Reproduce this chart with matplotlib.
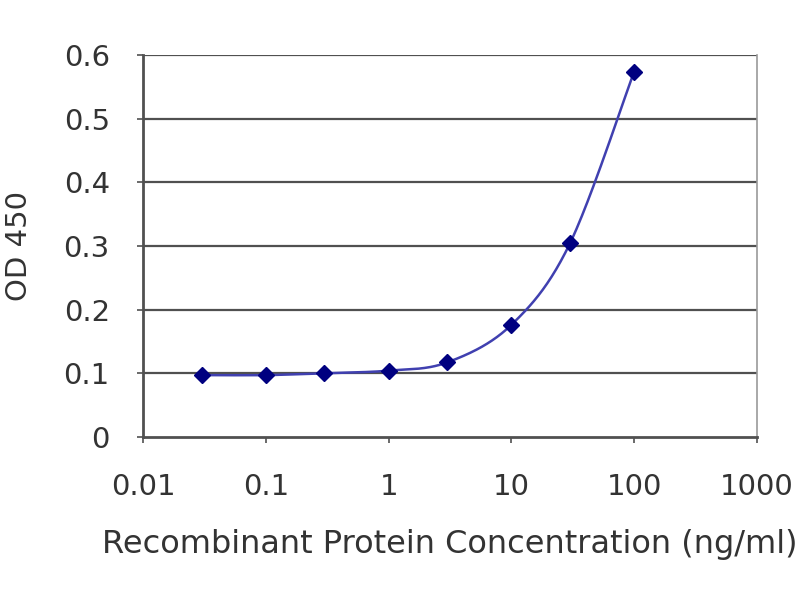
import numpy as np
import matplotlib
matplotlib.use("Agg")
import matplotlib.pyplot as plt
from matplotlib.ticker import FixedLocator, FixedFormatter, NullLocator

# data
conc = [0.03, 0.1, 0.3, 1, 3, 10, 30, 100]
od450 = [0.097, 0.097, 0.100, 0.104, 0.117, 0.176, 0.304, 0.574]

x_ticks = [0.01, 0.1, 1, 10, 100, 1000]
x_labels = ["0.01", "0.1", "1", "10", "100", "1000"]
y_ticks = [0, 0.1, 0.2, 0.3, 0.4, 0.5, 0.6]
y_labels = ["0", "0.1", "0.2", "0.3", "0.4", "0.5", "0.6"]


def smooth(xs, ys, n=40):
    # Catmull-Rom style smoothing like a spreadsheet "smoothed line"
    p = np.column_stack([np.log10(xs), ys])
    p = np.vstack([p[0], p, p[-1]])
    out = []
    for i in range(1, len(p) - 2):
        p0, p1, p2, p3 = p[i - 1], p[i], p[i + 1], p[i + 2]
        c1 = p1 + (p2 - p0) / 6
        c2 = p2 - (p3 - p1) / 6
        t = np.linspace(0, 1, n)[:, None]
        seg = ((1 - t) ** 3) * p1 + 3 * ((1 - t) ** 2) * t * c1 + 3 * (1 - t) * t ** 2 * c2 + t ** 3 * p2
        out.append(seg)
    out = np.vstack(out)
    return 10 ** out[:, 0], out[:, 1]


plt.rcParams["font.family"] = ["DejaVu Sans"]

fig = plt.figure(figsize=(8, 6), dpi=100)
ax = fig.add_axes([0.179, 0.272, 0.767, 0.636])

sx, sy = smooth(conc, od450)
ax.plot(sx, sy, color="#4040b0", lw=1.8, zorder=3)
ax.plot(conc, od450, linestyle="none", marker="D", ms=8.5, color="#000080", zorder=4)

ax.set_xscale("log")
ax.set_xlim(0.01, 1000)
ax.set_ylim(0, 0.6)
ax.xaxis.set_major_locator(FixedLocator(x_ticks))
ax.xaxis.set_major_formatter(FixedFormatter(x_labels))
ax.xaxis.set_minor_locator(NullLocator())
ax.set_yticks(y_ticks)
ax.set_yticklabels(y_labels)

for v in y_ticks[1:]:
    ax.axhline(v, color="#505050", lw=1.6, zorder=1)

for s in ["left", "bottom"]:
    ax.spines[s].set_color("#505050")
    ax.spines[s].set_linewidth(2)
ax.spines["top"].set_visible(False)
ax.spines["right"].set_color("#999999")
ax.spines["right"].set_linewidth(1.2)

ax.tick_params(axis="both", colors="#505050", labelcolor="#333333", labelsize=21, length=4, width=1.2)
ax.tick_params(axis="x", pad=22)
ax.tick_params(axis="y", pad=20)

ax.set_xlabel("Recombinant Protein Concentration (ng/ml)", fontsize=23, color="#333333", labelpad=20)
ax.set_ylabel("OD 450", fontsize=21, color="#333333", labelpad=22)

fig.savefig("out.png", dpi=100)
